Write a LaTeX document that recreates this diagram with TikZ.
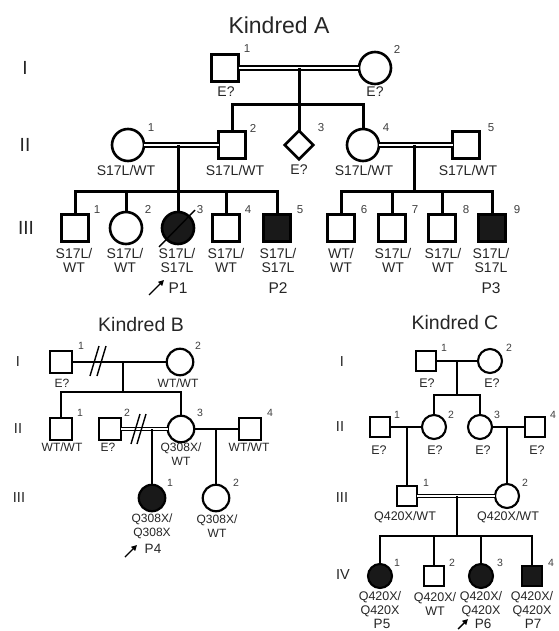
\documentclass[tikz,border=0pt]{standalone}
\usepackage{fontspec}
\setmainfont{Liberation Sans}
\usetikzlibrary{shapes.geometric,arrows.meta}
\tikzset{
  every node/.style={inner sep=0pt, outer sep=0pt},
  sqA/.style={draw, rectangle, minimum size=27pt, line width=3.3pt},
  ciA/.style={draw, circle, minimum size=32pt, line width=2.6pt},
  dmA/.style={draw, diamond, minimum width=28.5pt, minimum height=28.5pt, line width=2.8pt},
  sqB/.style={draw, rectangle, minimum size=22pt, line width=2.6pt},
  ciB/.style={draw, circle, minimum size=26.5pt, line width=2.2pt},
  sqC/.style={draw, rectangle, minimum size=20.5pt, line width=2.4pt},
  ciC/.style={draw, circle, minimum size=24pt, line width=2.1pt},
  aff/.style={fill=black!90},
  lnA/.style={line width=3pt},
  lnB/.style={line width=2.1pt},
  lnC/.style={line width=2.3pt},
  dblA/.style={double=white, double distance=1.4pt, line width=1.9pt},
  dblB/.style={double=white, double distance=1.1pt, line width=1.2pt},
  dblC/.style={double=white, double distance=1.2pt, line width=1.3pt},
  slsh/.style={line width=1.4pt},
  arr/.style={line width=1.4pt, -{Triangle[length=5.5pt,width=5.5pt]}},
  titA/.style={font=\fontsize{23}{25}\selectfont, text=black!85},
  titB/.style={font=\fontsize{19.5}{21}\selectfont, text=black!85},
  romA/.style={font=\fontsize{19}{20}\selectfont, text=black!85},
  romB/.style={font=\fontsize{14.5}{15}\selectfont, text=black!85},
  numA/.style={font=\fontsize{11.5}{12}\selectfont, text=black!75},
  numB/.style={font=\fontsize{10.5}{11}\selectfont, text=black!75},
  labA/.style={font=\fontsize{14}{14}\selectfont, align=center, text=black!85},
  labB/.style={font=\fontsize{12}{14}\selectfont, align=center, text=black!85},
  labC/.style={font=\fontsize{12.5}{13.5}\selectfont, align=center, text=black!85},
  pA/.style={font=\fontsize{15.5}{16}\selectfont, text=black!85},
  pB/.style={font=\fontsize{13.5}{14}\selectfont, text=black!85},
}
\begin{document}
\begin{tikzpicture}[x=1pt,y=-1pt]
\fill[white] (0,0) rectangle (558,631);
\useasboundingbox (0,0) rectangle (558,631);

% ================= Kindred A =================
\node[titA] (tA) at (279,25) {Kindred A};
\node[romA] (rAI) at (25,68) {I};
\node[romA] (rAII) at (25,145) {II};
\node[romA] (rAIII) at (26,228) {III};

% generation I
\node[sqA] (aI1) at (225,68) {};
\node[ciA] (aI2) at (375,68) {};
% generation II
\node[ciA] (aII1) at (128,145) {};
\node[sqA] (aII2) at (232,145) {};
\node[dmA] (aII3) at (299,145) {};
\node[ciA] (aII4) at (363,145) {};
\node[sqA] (aII5) at (466,145) {};
% generation III
\node[sqA] (aIII1) at (75,228) {};
\node[ciA] (aIII2) at (126,228) {};
\node[ciA,aff] (aIII3) at (178,228) {};
\node[sqA] (aIII4) at (226,228) {};
\node[sqA,aff] (aIII5) at (277,228) {};
\node[sqA] (aIII6) at (341,228) {};
\node[sqA] (aIII7) at (392,228) {};
\node[sqA] (aIII8) at (442,228) {};
\node[sqA,aff] (aIII9) at (492,228) {};

% junctions
\coordinate (aIm) at (299,68);
\coordinate (aIs) at (299,105);
\coordinate (aIIm1) at (178,145);
\coordinate (aIIs1) at (178,191);
\coordinate (aIIm2) at (414,145);
\coordinate (aIIs2) at (414,191);

% connectors
\draw[dblA] (aI1.east) -- (aI2.west);
\draw[lnA] (aIm) -- (aII3.north);
\draw[lnA] (aII2.north) |- (aIs) -| (aII4.north);
\draw[dblA] (aII1.east) -- (aII2.west);
\draw[dblA] (aII4.east) -- (aII5.west);
\draw[lnA] (aIIm1) -- (aIII3.north);
\draw[lnA] (aIII1.north) |- (aIIs1) -| (aIII5.north);
\draw[lnA] (aIII2.north) -- (aIII2.north |- aIIs1);
\draw[lnA] (aIII4.north) -- (aIII4.north |- aIIs1);
\draw[lnA] (aIIm2) -- (aIIs2);
\draw[lnA] (aIII6.north) |- (aIIs2) -| (aIII9.north);
\draw[lnA] (aIII7.north) -- (aIII7.north |- aIIs2);
\draw[lnA] (aIII8.north) -- (aIII8.north |- aIIs2);

% deceased slash and proband arrow
\coordinate (aSl1) at (159,247);
\coordinate (aSl2) at (195,210);
\draw[slsh] (aSl1) -- (aSl2);
\coordinate (aAr1) at (149,295);
\coordinate (aAr2) at (164,280);
\draw[arr] (aAr1) -- (aAr2);

% numbers
\path (aI1) ++(22,-19) node[numA] (naI1) {1};
\path (aI2) ++(22,-19) node[numA] (naI2) {2};
\path (aII1) ++(23,-17) node[numA] (naII1) {1};
\path (aII2) ++(21,-17) node[numA] (naII2) {2};
\path (aII3) ++(22,-17) node[numA] (naII3) {3};
\path (aII4) ++(23,-17) node[numA] (naII4) {4};
\path (aII5) ++(25,-17) node[numA] (naII5) {5};
\path (aIII1) ++(22,-18.5) node[numA] (naIII1) {1};
\path (aIII2) ++(22,-18.5) node[numA] (naIII2) {2};
\path (aIII3) ++(22,-18.5) node[numA] (naIII3) {3};
\path (aIII4) ++(22,-18.5) node[numA] (naIII4) {4};
\path (aIII5) ++(23,-18.5) node[numA] (naIII5) {5};
\path (aIII6) ++(23,-18.5) node[numA] (naIII6) {6};
\path (aIII7) ++(23,-18.5) node[numA] (naIII7) {7};
\path (aIII8) ++(24,-18.5) node[numA] (naIII8) {8};
\path (aIII9) ++(25,-18.5) node[numA] (naIII9) {9};

% genotype labels
\node[labA] (laI1) at (226,92) {E?};
\node[labA] (laI2) at (375,92) {E?};
\node[labA] (laII1) at (126,170) {S17L/WT};
\node[labA] (laII2) at (235,170) {S17L/WT};
\node[labA] (laII3) at (299,170) {E?};
\node[labA] (laII4) at (364,170) {S17L/WT};
\node[labA] (laII5) at (468,170) {S17L/WT};
\node[labA] (laIII1) at (74,260) {S17L/\\WT};
\node[labA] (laIII2) at (125,260) {S17L/\\WT};
\node[labA] (laIII3) at (177,260) {S17L/\\S17L};
\node[labA] (laIII4) at (226,260) {S17L/\\WT};
\node[labA] (laIII5) at (278,260) {S17L/\\S17L};
\node[labA] (laIII6) at (341,260) {WT/\\WT};
\node[labA] (laIII7) at (393,260) {S17L/\\WT};
\node[labA] (laIII8) at (443,260) {S17L/\\WT};
\node[labA] (laIII9) at (491,260) {S17L/\\S17L};
\node[pA] (pP1) at (178,288) {P1};
\node[pA] (pP2) at (278,288) {P2};
\node[pA] (pP3) at (491,288) {P3};

% ================= Kindred B =================
\node[titB] (tB) at (141,325) {Kindred B};
\node[romB] (rBI) at (18,362) {I};
\node[romB] (rBII) at (18,429) {II};
\node[romB] (rBIII) at (19,498) {III};

\node[sqB] (bI1) at (61,362) {};
\node[ciB] (bI2) at (180,362) {};
\node[sqB] (bII1) at (61,429) {};
\node[sqB] (bII2) at (110,429) {};
\node[ciB] (bII3) at (181,429) {};
\node[sqB] (bII4) at (250,429) {};
\node[ciB,aff] (bIII1) at (152,498) {};
\node[ciB] (bIII2) at (216,498) {};

\coordinate (bIm) at (123,362);
\coordinate (bIs) at (123,392);
\coordinate (bIIm1) at (152,429);
\coordinate (bIIm2) at (216,429);

\draw[lnB] (bI1.east) -- (bI2.west);
\draw[lnB] (bIm) -- (bIs);
\draw[lnB] (bII1.north) |- (bIs) -| (bII3.north);
\draw[dblB] (bII2.east) -- (bII3.west);
\draw[lnB] (bII3.east) -- (bII4.west);
\draw[lnB] (bIIm1) -- (bIII1.north);
\draw[lnB] (bIIm2) -- (bIII2.north);

% separation slashes
\coordinate (bS1a) at (90,376); \coordinate (bS1b) at (99,346);
\coordinate (bS2a) at (97,376); \coordinate (bS2b) at (106,346);
\draw[slsh] (bS1a) -- (bS1b);
\draw[slsh] (bS2a) -- (bS2b);
\coordinate (bS3a) at (131,444); \coordinate (bS3b) at (140,414);
\coordinate (bS4a) at (137,444); \coordinate (bS4b) at (146,414);
\draw[slsh] (bS3a) -- (bS3b);
\draw[slsh] (bS4a) -- (bS4b);

\coordinate (bAr1) at (125,557);
\coordinate (bAr2) at (137,545);
\draw[arr] (bAr1) -- (bAr2);

\path (bI1) ++(20,-16) node[numB] (nbI1) {1};
\path (bI2) ++(18,-16) node[numB] (nbI2) {2};
\path (bII1) ++(19,-16) node[numB] (nbII1) {1};
\path (bII2) ++(17,-16) node[numB] (nbII2) {2};
\path (bII3) ++(19,-16) node[numB] (nbII3) {3};
\path (bII4) ++(20,-16) node[numB] (nbII4) {4};
\path (bIII1) ++(18,-15) node[numB] (nbIII1) {1};
\path (bIII2) ++(20,-15) node[numB] (nbIII2) {2};

\node[labB] (lbI1) at (62,383) {E?};
\node[labB] (lbI2) at (178,383) {WT/WT};
\node[labB] (lbII1) at (62,447) {WT/WT};
\node[labB] (lbII2) at (108,447) {E?};
\node[labB] (lbII3) at (181,454.5) {Q308X/\\WT};
\node[labB] (lbII4) at (249,447) {WT/WT};
\node[labB] (lbIII1) at (152,526.5) {Q308X/\\Q308X};
\node[labB] (lbIII2) at (217,526.5) {Q308X/\\WT};
\node[pB] (pP4) at (153,549) {P4};

% ================= Kindred C =================
\node[titB] (tC) at (455,323) {Kindred C};
\node[romB] (rCI) at (342,362) {I};
\node[romB] (rCII) at (340,427) {II};
\node[romB] (rCIII) at (342,498) {III};
\node[romB] (rCIV) at (343,575) {IV};

\node[sqC] (cI1) at (426,361) {};
\node[ciC] (cI2) at (490,361) {};
\node[sqC] (cII1) at (380,427) {};
\node[ciC] (cII2) at (434,427) {};
\node[ciC] (cII3) at (480,427) {};
\node[sqC] (cII4) at (535,427) {};
\node[sqC] (cIII1) at (407,496) {};
\node[ciC] (cIII2) at (507,496) {};
\node[ciC,aff] (cIV1) at (380,576) {};
\node[sqC] (cIV2) at (434,576) {};
\node[ciC,aff] (cIV3) at (481,576) {};
\node[sqC,aff] (cIV4) at (532,576) {};

\coordinate (cIm) at (457,361);
\coordinate (cIs) at (457,395);
\coordinate (cIIm1) at (407,427);
\coordinate (cIIm2) at (507,427);
\coordinate (cIIIm) at (457,496);
\coordinate (cIIIs) at (457,536);

\draw[lnC] (cI1.east) -- (cI2.west);
\draw[lnC] (cIm) -- (cIs);
\draw[lnC] (cII2.north) |- (cIs) -| (cII3.north);
\draw[lnC] (cII1.east) -- (cII2.west);
\draw[lnC] (cII3.east) -- (cII4.west);
\draw[lnC] (cIIm1) -- (cIII1.north);
\draw[lnC] (cIIm2) -- (cIII2.north);
\draw[dblC] (cIII1.east) -- (cIII2.west);
\draw[lnC] (cIIIm) -- (cIIIs);
\draw[lnC] (cIV1.north) |- (cIIIs) -| (cIV4.north);
\draw[lnC] (cIV2.north) -- (cIV2.north |- cIIIs);
\draw[lnC] (cIV3.north) -- (cIV3.north |- cIIIs);

\coordinate (cAr1) at (458,629);
\coordinate (cAr2) at (468,619);
\draw[arr] (cAr1) -- (cAr2);

\path (cI1) ++(18,-13) node[numB] (ncI1) {1};
\path (cI2) ++(19,-13) node[numB] (ncI2) {2};
\path (cII1) ++(17,-12) node[numB] (ncII1) {1};
\path (cII2) ++(17,-12) node[numB] (ncII2) {2};
\path (cII3) ++(17,-12) node[numB] (ncII3) {3};
\path (cII4) ++(18,-12) node[numB] (ncII4) {4};
\path (cIII1) ++(19,-13) node[numB] (ncIII1) {1};
\path (cIII2) ++(18,-13) node[numB] (ncIII2) {2};
\path (cIV1) ++(17,-13) node[numB] (ncIV1) {1};
\path (cIV2) ++(18,-13) node[numB] (ncIV2) {2};
\path (cIV3) ++(19,-13) node[numB] (ncIV3) {3};
\path (cIV4) ++(19,-13) node[numB] (ncIV4) {4};

\node[labC] (lcI1) at (427,383) {E?};
\node[labC] (lcI2) at (492,383) {E?};
\node[labC] (lcII1) at (379,450) {E?};
\node[labC] (lcII2) at (435,450) {E?};
\node[labC] (lcII3) at (483,450) {E?};
\node[labC] (lcII4) at (537,450) {E?};
\node[labC] (lcIII1) at (405,517) {Q420X/WT};
\node[labC] (lcIII2) at (508,517) {Q420X/WT};
\node[labC] (lcIV1) at (380,604) {Q420X/\\Q420X};
\node[labC] (lcIV2) at (435,604) {Q420X/\\WT};
\node[labC] (lcIV3) at (481,604) {Q420X/\\Q420X};
\node[labC] (lcIV4) at (532,604) {Q420X/\\Q420X};
\node[pB] (pP5) at (382,623.5) {P5};
\node[pB] (pP6) at (483,623.5) {P6};
\node[pB] (pP7) at (533,623.5) {P7};
\end{tikzpicture}
\end{document}
